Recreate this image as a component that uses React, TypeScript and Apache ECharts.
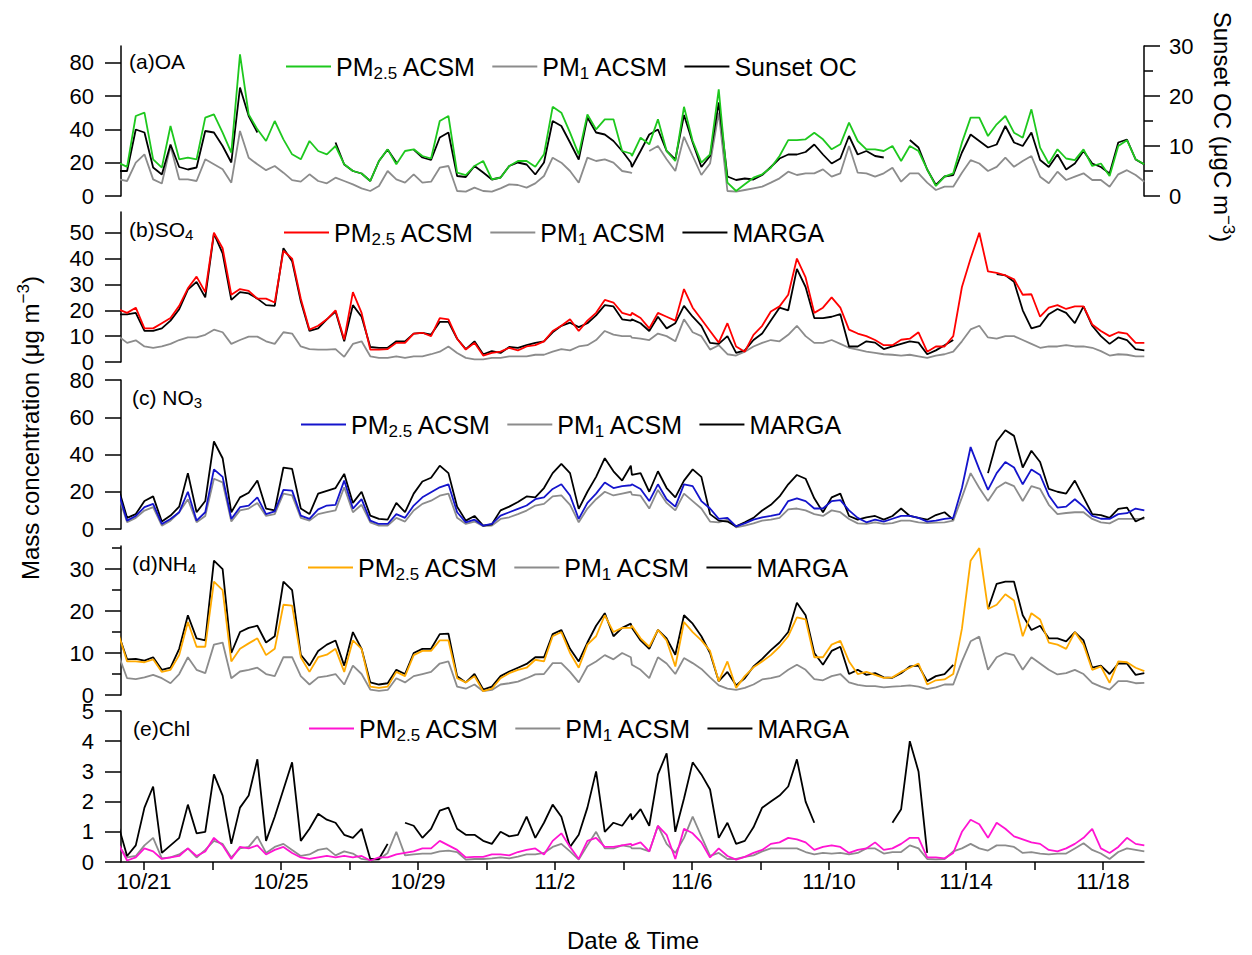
import React, { useEffect, useRef } from "react";
import * as echarts from "echarts";

// ---------- sampling (days after 10/20 00:00) ----------
const SAMPLE_STEP = 0.2536;
const FIRST_HALF_START = 0.254;
const SECOND_HALF_START = 15.247;
const SAMPLE_DAYS: number[] = Array.from({ length: 120 }, (_, i) =>
  i < 60 ? FIRST_HALF_START + i * SAMPLE_STEP : SECOND_HALF_START + (i - 60) * SAMPLE_STEP
);

const X_MIN = 0.33;
const X_MAX = 30.2;
const X_TICK_DAYS = [1, 3, 5, 7, 9, 11, 13, 15, 17, 19, 21, 23, 25, 27, 29];
const X_LABEL_DAYS = [1, 5, 9, 13, 17, 21, 25, 29];

// ---------- (a) OA ----------
const OA_PM25 = [20,17.5,48,50,22,17,42,22,23,22,47,49,38,26,85,49,40,33,45,34,25,22,33,27,25,30,19,15,13.5,9,21,28,19,27,28,24,22.5,45,48,14,12.5,18,21,10,11,18,21,21,17.5,25,53.5,50,38,25,49,40,46,46,27,25.5,
  24,35,31,46,27,21,53.5,33,20,25,64,8,3,7,11,13,17,24,33.5,33.5,34,38,34,28,31,44,33,28,28,27,30,21,30,27,16,6,11.6,13.6,32,47,47,36,43,48,38,35,52,29,19.5,28,22.5,21.5,28,18,19.5,12,30,33.5,22,19];
const OA_PM1 = [10,9,20,25,10,7.5,30,10,10,9,22,19,16,8,39,23,19,15.5,18,14,9.5,8.6,13,9,7.6,11,9,7,4.6,3,6,15,10,8,13,8,8.6,17,18,3,2.6,5,3,2.6,4.6,7,6.6,5,7.6,12,23,20,15,8,23,21,22,20,15,14,
  13.6,null,27,30,22,15,35.5,24,12.6,19.5,50,3,2.6,3.6,4.6,5.6,8,10.6,14.6,12.6,13.6,13.6,16,11.6,13.6,30,14,13.6,11.6,13.6,17,8.6,13.6,13.6,8,3.6,5.6,5.6,14,21.5,19.5,15,17.5,23,17.5,21,24,11.6,7.6,14.6,9.6,11.6,13.6,9.6,9.6,5.6,13,15.5,12.6,8.6];
const OA_SUNSET_OC = [5.0,5.0,13.3,12.7,5.7,4.3,10.3,5.8,5.3,5.7,13.0,12.7,10.0,6.7,21.7,16.0,12.7,null,null,null,null,null,null,null,null,10.7,6.3,5.0,4.5,3.0,7.0,9.3,6.7,null,9.3,7.7,7.2,11.7,12.7,4.0,3.8,6.0,4.7,3.3,3.7,6.0,6.7,6.3,4.3,6.7,15.0,14.0,10.7,7.3,15.7,12.7,12.3,11.0,9.0,6.7,
  5.8,9.0,12.3,13.3,9.0,7.3,16.2,10.7,5.8,8.0,18.7,3.9,3.2,3.5,3.3,4.2,5.8,7.5,8.3,8.3,8.8,10.3,8.3,6.5,7.5,12.0,8.3,9.0,8.0,7.7,null,null,11.2,9.7,5.3,2.2,3.9,4.2,8.7,12.3,11.0,9.7,10.3,14.0,10.7,10.0,12.7,7.2,5.8,8.3,5.3,6.5,9.0,6.5,5.8,4.5,10.7,11.3,7.3,6.3];

// ---------- (b) SO4 ----------
const SO4_PM25 = [20.4,19,21,13,13,15,17,21.7,28.5,33,27,50,44,26,28.2,27.5,24.5,24.5,23,43,40,24.5,12.5,14,16.5,20,8.7,27,19,4.8,4.8,5,7.4,7.4,11,11.3,10,17,16.5,9,4.8,7.4,2.5,3.5,4,5.5,4.5,6,6.5,8,12,14,16.5,12,16,19,24,23,19,18,
  19,17,13,19,17.5,16,28.2,21,16.5,12,7.5,15,6,4,10.5,14,19.5,21.5,26,40,32.7,19,21,25,21,12.5,11,10,8.5,6.5,6.5,8.6,9,11.5,4,6,6,10,29,40,50,35,34.5,33.5,32,26,26.2,17.5,21,22,20.5,21.5,21.5,14.5,12,10,11.5,11,7.4,7.4];
const SO4_PM1 = [10,7.4,8.4,6,5.5,6,7,8.5,9.5,9.5,10.5,12.5,11.5,7,8.5,9.8,9.8,8,7,11.5,11,6,5,4.8,4.8,5,2,7,8,2.2,1.6,1.6,2.2,1.6,2.2,2.2,3,4,6,3.5,1.6,1,1,1.6,1.6,2.2,2.2,2.2,2.8,2.8,4,5,4.5,6,6.5,8.5,12,10.6,10,10,
  9.4,9,8.5,11,10,8,16.5,11.5,10,4.8,6.5,3,2.5,4,6,7.4,8.5,8,10.5,14,10,7.4,7.4,8.5,7,5.5,4.8,4,3.5,3,2.8,2.5,2.8,2.2,1.6,2.5,3,4,8,12.6,14,9.5,9,10,10,8.5,7,5.5,6,6,6.5,6,6,5.5,4.2,2.5,3,2.8,2.2,2.2];
const SO4_MARGA = [18.4,18.4,19,12,12,13,16,20.4,28,31,25,49.6,42,24,27,26.5,24.5,22,21.7,44,39,23.5,12,13,16.5,19.5,8,22,17.5,5.8,5.5,5.5,8,8,11,11.3,10.6,15.5,15.5,9,5,8,3,4.2,3.5,5.8,5.5,6.5,7.4,8,11.5,14,15.2,13.5,15,18,22,21.5,16.5,16,
  16.5,15,12,17.5,13,15,21.7,17.5,14,7.4,7,10,3.5,4.5,8.5,11,16,21,20,36,29,17,17,17.5,18.5,6,6,8,7.5,5,6,7,8,7.5,3,4.5,6.5,8.5,null,null,null,null,34,33.5,31,20,13,14,18.5,20.5,19,15,21.5,14,10,7,9.5,8.5,5,4.5];

// ---------- (c) NO3 ----------
const NO3_PM25 = [19.7,4.5,7,11.7,13.5,2.7,5.4,9,20,4.5,9,32,28,5.4,11.7,12.6,17,8,9.5,21,20.6,7.2,5.4,10.5,12.6,13,26,11,16,4.5,2.7,2.7,8,6,12.6,17,19.7,22.4,24,9,3.6,5,1.8,2.7,7.2,9,10.8,12.6,16,17,21.5,24,18,5.4,14,19,25,22,23,23.5,
  24,21.5,15,24,16,12,24,23,15,11,5.4,6,1.4,3,5,6.3,7,8,15,16.5,15,11,11,15,15.5,10,6,3.6,5,4,5.5,7,7,6,4,4.5,5.4,6,22,44,32,21,30,36,33,24,32,29,18,11.5,12,16,12,7,5.5,5.4,8,8.5,11,10];
const NO3_PM1 = [18,3.6,6,9.9,11.7,1.8,4.5,9,16,3.6,7,27,25,4,10,11,14,7,8,19,18,6,4.5,8,9,10,22.4,9,13,3.6,1.8,1.8,6,4,9.9,13.5,15.2,17.9,19,6,2.7,4,1.5,1.8,5.4,6.3,8,9.9,12.6,13.5,17.5,18,13,3.6,11,16,20,18,19,20,
  18.5,17.9,11,21,14,10,19,15,11,4,3.6,5,0.9,1.8,3,4.5,5,6,10.5,11,10,8,7,10,9,5.4,3,2.7,3.5,2.7,3.2,4.5,4.5,3.6,3.2,3.4,3.6,4.5,17,30,22,15,22,25,23,15,23,21.5,13,8,8.6,9,9,5.4,3.6,3,5.4,5.4,5.4,5.4];
const NO3_MARGA = [22,6,8,15,17.5,4,7.2,12,30,9,15,47,38,9,17,19.5,26,11,10,33,32.3,11,8,19,20.5,22,29.6,14,20,7.2,5.4,5,14,9,19,25.5,27.5,34,30,12,4.5,7,1.8,2.5,10,12,14.5,17.5,17,22,30,35,30,10.8,20,28,38,31,26,34,
  29,30,20,31,22,17,26,32,28,8,4.5,4,1.4,3.6,6,9.9,13,17.5,24,29,27,16.5,9,17,19,7,5,6.3,7,5,7,11,7,6,5,7.5,9,5,null,null,null,30,47,53,50,33,42,36,21.5,20,19,26,17,8,7.5,6,10.8,11.5,4,6.3];

// ---------- (d) NH4 ----------
const NH4_PM25 = [14.6,8,8,7.8,8.5,5.5,6,9.5,17.4,11.5,11.5,27,25,8,11,12.3,13.5,9.5,11,21.5,21.3,9,5.5,9,9.6,11,5.5,13,11,2,1.7,2,5.5,4.5,9.5,10.5,10.5,13,13,4,3,4.5,0.9,1.5,4,5.2,6,6.5,8.4,8,14,15,10,6.5,12,14,19,15,16,16,
  16.5,13.5,11.5,15.5,13,6.8,17.4,15,13,10.5,3.3,8,1.7,4.5,6.6,8,9.5,11.5,14,18.5,18,9,9,12,12.9,8,5,5.5,4.8,4.1,4.2,5.5,6.5,7.5,2.5,3.5,3.7,5,15.8,32,35,20.5,21.5,24,22.5,14,19.5,18,12.5,12,11,15,12,6,6.8,2.9,8,7.8,6.5,5.7];
const NH4_PM1 = [9.6,4,3.8,4.2,4.8,4,2.8,5,9,6,5.2,12,12.5,4,5.6,6,6.5,5,4.5,9,9,4.5,2.5,4.2,4.5,5,2.5,7,5,1.3,1,1.2,4,3,4.5,5,5.5,7.5,8,2,1.5,2.5,0.9,1.2,2.5,2.8,3.2,4,4.9,5,7.6,7.6,5.5,3,6.8,8,9.5,8.5,10,9,
  7.2,6,4,9,7.5,5,8.8,7.6,6.2,4.2,2.3,1.5,1.2,1.7,2.5,3.7,4,4.5,6,7.2,6,3.8,3.5,4.5,5,3,2.4,2.1,2.1,1.8,2,2.1,2.3,2,1.4,1.8,2.5,2.5,8,12.8,13.9,6,9,10,9.5,6,9,7.5,6,4.9,5.2,6,5,2.9,2,1.3,3.3,3.3,2.8,2.9];
const NH4_MARGA = [14.6,8.5,8.6,8.2,9,6,6.5,11,19,13.5,13,32,30,10,15,16,16.5,12.5,14,27,25,9.6,7,10.5,12,13,7,15,11,3,2.5,2.8,6,5,10,11,11,14.5,14.6,4.5,3,5,1.3,2,4.5,5.6,6.5,7.4,9,9,14.5,15.5,11,8,12.5,16.5,19.5,14,16,17,
  16,13,11,15.5,13.5,9.6,19,17,14,10,3.3,5.5,2.3,4,6.8,8.6,10.7,12.5,15,22,19,10,7.2,10.5,11.5,5,6,4.8,5.2,4.2,4.1,5.2,6.8,7,3.3,4.5,5,7.2,null,null,null,20.5,26.5,27,27,19,15.5,16.5,13.5,13.5,12.8,15,13,6.5,7,5,7.5,7.5,4.8,5.2];

// ---------- (e) Chl ----------
const CHL_PM25 = [0.6,0.05,0.15,0.45,0.35,0.1,0.15,0.2,0.45,0.2,0.35,0.8,0.55,0.1,0.5,0.45,0.55,0.25,0.4,0.5,0.3,0.15,0.1,0.15,0.2,0.15,0.2,0.15,0.2,0.05,0.15,0.15,0.25,0.3,0.35,0.45,0.45,0.7,0.55,0.4,0.15,0.17,0.17,0.25,0.25,0.22,0.33,0.4,0.45,0.25,0.7,0.95,0.5,0.1,0.7,0.8,0.5,0.5,0.55,0.6,
  0.55,0.65,0.35,1.2,0.9,0.1,1.1,0.95,0.65,0.15,0.45,0.2,0.08,0.17,0.3,0.4,0.6,0.65,0.8,0.75,0.65,0.4,0.5,0.55,0.5,0.3,0.4,0.45,0.65,0.4,0.45,0.6,0.8,0.8,0.15,0.15,0.12,0.3,1.0,1.4,1.25,0.8,1.3,1.1,0.85,0.75,0.65,0.6,0.4,0.35,0.45,0.6,0.8,1.1,0.45,0.3,0.5,0.8,0.6,0.55];
const CHL_PM1 = [0.55,0.15,0.2,0.55,0.8,0.12,0.15,0.25,0.45,0.15,0.4,0.7,0.6,0.15,0.45,0.5,0.85,0.3,0.5,0.6,0.4,0.2,0.25,0.4,0.45,0.22,0.35,0.28,0.1,0.06,0.08,0.3,1.0,0.22,0.25,0.28,0.28,0.35,0.38,0.33,0.08,0.1,0.1,0.12,0.15,0.12,0.18,0.25,0.25,0.3,0.5,0.6,0.35,0.08,0.55,1.0,0.45,0.45,0.55,0.5,
  0.45,0.45,0.35,1.2,0.6,0.3,0.8,1.5,0.85,0.2,0.3,0.1,0.1,0.17,0.22,0.35,0.45,0.45,0.45,0.45,0.33,0.25,0.3,0.28,0.3,0.25,0.3,0.45,0.45,0.28,0.33,0.33,0.55,0.45,0.1,0.09,0.1,0.35,0.45,0.6,0.45,0.38,0.55,0.55,0.5,0.3,0.33,0.28,0.25,0.28,0.28,0.45,0.62,0.4,0.28,0.1,0.33,0.45,0.4,0.35];
const CHL_MARGA = [1.2,0.2,0.55,1.8,2.5,0.3,0.55,0.8,1.9,0.95,1.0,2.9,2.2,0.6,1.8,2.2,3.4,0.7,1.5,2.4,3.3,0.7,1.1,1.6,1.4,1.3,0.9,0.8,1.1,0.1,0.1,0.6,null,1.3,1.2,0.8,1.1,1.7,1.8,1.1,0.9,0.9,0.7,0.6,1.0,0.85,0.9,1.5,0.8,1.3,1.9,1.5,0.5,0.9,1.8,3.0,1.0,1.3,1.2,1.6,
  1.4,1.75,1.2,2.9,3.6,1.0,2.1,3.3,2.9,2.4,0.8,1.3,0.6,0.7,1.15,1.8,2.0,2.2,2.5,3.4,2.0,1.3,null,null,null,null,null,null,null,null,1.3,1.75,4.0,3.0,0.3,
  null,null,null,null,null,null,null,null,null,null,null,null,null,null,null,null,null,null,null,null,null,null,null,null,null];

// ---------- styling ----------
const FONT = "'Liberation Sans', Arial, Helvetica, sans-serif";
const GRAY = "#8c8c8c";
const BLACK = "#000000";

const toXY = (arr: (number | null)[]) =>
  arr.map((v, i) => [SAMPLE_DAYS[i], v === null ? "-" : v]);

const dayLabel = (d: number) => {
  const date = new Date(2000, 9, 20 + Math.round(d));
  return `${date.getMonth() + 1}/${date.getDate()}`;
};

type Panel = {
  top: number; height: number; yMax: number; yLabels: number[]; yMinor?: number[];
  color: string; pm25: (number | null)[]; pm1: (number | null)[]; third: (number | null)[];
  thirdName: string; label: string; legendLeft: number; legendY: number; labelX: number; labelY: number;
};

const PANELS: Panel[] = [
  { top: 46, height: 150, yMax: 90, yLabels: [0, 20, 40, 60, 80], color: "#1ec81e", pm25: OA_PM25, pm1: OA_PM1, third: OA_SUNSET_OC, thirdName: "Sunset OC", label: "{t|(a)}{t|OA}", legendLeft: 286, legendY: 69, labelX: 129, labelY: 61 },
  { top: 212, height: 150, yMax: 58, yLabels: [0, 10, 20, 30, 40, 50], color: "#ff0000", pm25: SO4_PM25, pm1: SO4_PM1, third: SO4_MARGA, thirdName: "MARGA", label: "{t|(b)}{t|SO}{s|4}", legendLeft: 284, legendY: 235, labelX: 129, labelY: 229 },
  { top: 380, height: 149, yMax: 80, yLabels: [0, 20, 40, 60, 80], color: "#1414cc", pm25: NO3_PM25, pm1: NO3_PM1, third: NO3_MARGA, thirdName: "MARGA", label: "{t|(c) NO}{s|3}", legendLeft: 301, legendY: 427, labelX: 132, labelY: 397 },
  { top: 546, height: 149, yMax: 35.5, yLabels: [0, 10, 20, 30], yMinor: [5, 15, 25, 35], color: "#ffaa00", pm25: NH4_PM25, pm1: NH4_PM1, third: NH4_MARGA, thirdName: "MARGA", label: "{t|(d)}{t|NH}{s|4}", legendLeft: 308, legendY: 570, labelX: 132, labelY: 563 },
  { top: 711, height: 151, yMax: 5, yLabels: [0, 1, 2, 3, 4, 5], color: "#ff14d2", pm25: CHL_PM25, pm1: CHL_PM1, third: CHL_MARGA, thirdName: "MARGA", label: "{t|(e)}{t|Chl}", legendLeft: 309, legendY: 731, labelX: 133, labelY: 728 },
];

const LEGEND_RICH = {
  t: { fontSize: 25, lineHeight: 30, fontFamily: FONT, color: "#000" },
  s: { fontSize: 17, lineHeight: 17, verticalAlign: "bottom", fontFamily: FONT, color: "#000" },
};
const LABEL_RICH = {
  t: { fontSize: 21, lineHeight: 26, fontFamily: FONT, color: "#000" },
  s: { fontSize: 15, lineHeight: 15, verticalAlign: "bottom", fontFamily: FONT, color: "#000" },
};
const TITLE_RICH = {
  t: { fontSize: 24, lineHeight: 30, fontFamily: FONT, color: "#000" },
  sup: { fontSize: 17, lineHeight: 17, verticalAlign: "top", fontFamily: FONT, color: "#000" },
};

function buildOption() {
  const grid = PANELS.map((p) => ({ left: 121, width: 1023, top: p.top, height: p.height, containLabel: false }));

  const xAxis = PANELS.map((_, i) => ({
    type: "value", gridIndex: i, min: X_MIN, max: X_MAX, show: i === 4,
    axisLine: { show: true, onZero: false, lineStyle: { color: BLACK, width: 1.5 } },
    axisTick: { show: true, customValues: X_TICK_DAYS, length: 8, lineStyle: { color: BLACK, width: 1.5 } },
    axisLabel: { show: true, customValues: X_LABEL_DAYS, formatter: (v: number) => dayLabel(v), fontSize: 22, color: BLACK, fontFamily: FONT, margin: 8 },
    splitLine: { show: false },
  }));

  const yAxis: any[] = [];
  const mkY = (gridIndex: number, max: number, position: string, ticks: number[], labels: number[] | null, tickLen: number, showLine: boolean) => {
    yAxis.push({
      type: "value", gridIndex, min: 0, max, position,
      axisLine: { show: showLine, onZero: false, lineStyle: { color: BLACK, width: 1.5 } },
      axisTick: { show: true, inside: false, customValues: ticks, length: tickLen, lineStyle: { color: BLACK, width: 1.5 } },
      axisLabel: labels
        ? { show: true, customValues: labels, fontSize: 22, color: BLACK, fontFamily: FONT, margin: position === "left" ? 27 : 25 }
        : { show: false },
      splitLine: { show: false },
    });
    return yAxis.length - 1;
  };

  const series: any[] = [];
  const legend: any[] = [];
  const graphicEls: any[] = [];
  const legendText: Record<string, string> = {};

  PANELS.forEach((p, i) => {
    const yLeft = mkY(i, p.yMax, "left", p.yLabels, p.yLabels, 16, true);
    if (p.yMinor) mkY(i, p.yMax, "left", p.yMinor, null, 9, false);
    let yThird = yLeft;
    if (i === 0) {
      yThird = mkY(i, 30, "right", [0, 10, 20, 30], [0, 10, 20, 30], 16, true);
      mkY(i, 30, "right", [5, 15, 25], null, 9, false);
    }
    const n25 = `p${i}-pm25`, n1 = `p${i}-pm1`, n3 = `p${i}-third`;
    legendText[n25] = "{t|PM}{s|2.5}{t| ACSM}";
    legendText[n1] = "{t|PM}{s|1}{t| ACSM}";
    legendText[n3] = `{t|${p.thirdName}}`;
    const common = { type: "line", xAxisIndex: i, showSymbol: false, symbol: "none", connectNulls: false, clip: true, silent: true };
    series.push({ ...common, name: n1, yAxisIndex: yLeft, data: toXY(p.pm1), lineStyle: { color: GRAY, width: 1.8 }, itemStyle: { color: GRAY } });
    series.push({ ...common, name: n3, yAxisIndex: yThird, data: toXY(p.third), lineStyle: { color: BLACK, width: 1.8 }, itemStyle: { color: BLACK } });
    series.push({ ...common, name: n25, yAxisIndex: yLeft, data: toXY(p.pm25), lineStyle: { color: p.color, width: 1.8 }, itemStyle: { color: p.color } });

    legend.push({
      left: p.legendLeft, top: p.legendY - 15, orient: "horizontal", padding: 0,
      icon: "rect", itemWidth: 45, itemHeight: 2, itemGap: 16, selectedMode: false,
      data: [n25, n1, n3],
      formatter: (name: string) => legendText[name],
      textStyle: { color: BLACK, fontFamily: FONT, fontSize: 25, rich: LEGEND_RICH },
    });

    graphicEls.push({
      type: "text", x: p.labelX, y: p.labelY, silent: true,
      style: { text: p.label, rich: LABEL_RICH, fill: BLACK, align: "left", verticalAlign: "middle", textAlign: "left", textVerticalAlign: "middle", fontSize: 21, fontFamily: FONT },
    });
  });

  graphicEls.push({
    type: "text", x: 30, y: 428, rotation: Math.PI / 2, silent: true,
    style: { text: "{t|Mass concentration (μg m}{sup|−3}{t|)}", rich: TITLE_RICH, fill: BLACK, align: "center", verticalAlign: "middle", textAlign: "center", textVerticalAlign: "middle", fontSize: 24, fontFamily: FONT },
  });
  graphicEls.push({
    type: "text", x: 1222, y: 127, rotation: -Math.PI / 2, silent: true,
    style: { text: "{t|Sunset OC (μgC m}{sup|−3}{t|)}", rich: TITLE_RICH, fill: BLACK, align: "center", verticalAlign: "middle", textAlign: "center", textVerticalAlign: "middle", fontSize: 24, fontFamily: FONT },
  });
  graphicEls.push({
    type: "text", x: 633, y: 940, silent: true,
    style: { text: "Date & Time", fill: BLACK, align: "center", verticalAlign: "middle", textAlign: "center", textVerticalAlign: "middle", fontSize: 24, fontFamily: FONT },
  });

  return {
    animation: false,
    backgroundColor: "#ffffff",
    textStyle: { fontFamily: FONT },
    grid, xAxis, yAxis, series, legend,
    graphic: { elements: graphicEls },
  };
}

export default function App() {
  const ref = useRef<HTMLDivElement>(null);
  useEffect(() => {
    if (!ref.current) return;
    const chart = echarts.init(ref.current, null, { renderer: "svg" });
    chart.setOption(buildOption() as any);
    return () => chart.dispose();
  }, []);
  return (
    <div
      ref={ref}
      style={{ position: "absolute", left: 0, top: 0, width: 1252, height: 955, background: "#fff" }}
    />
  );
}
